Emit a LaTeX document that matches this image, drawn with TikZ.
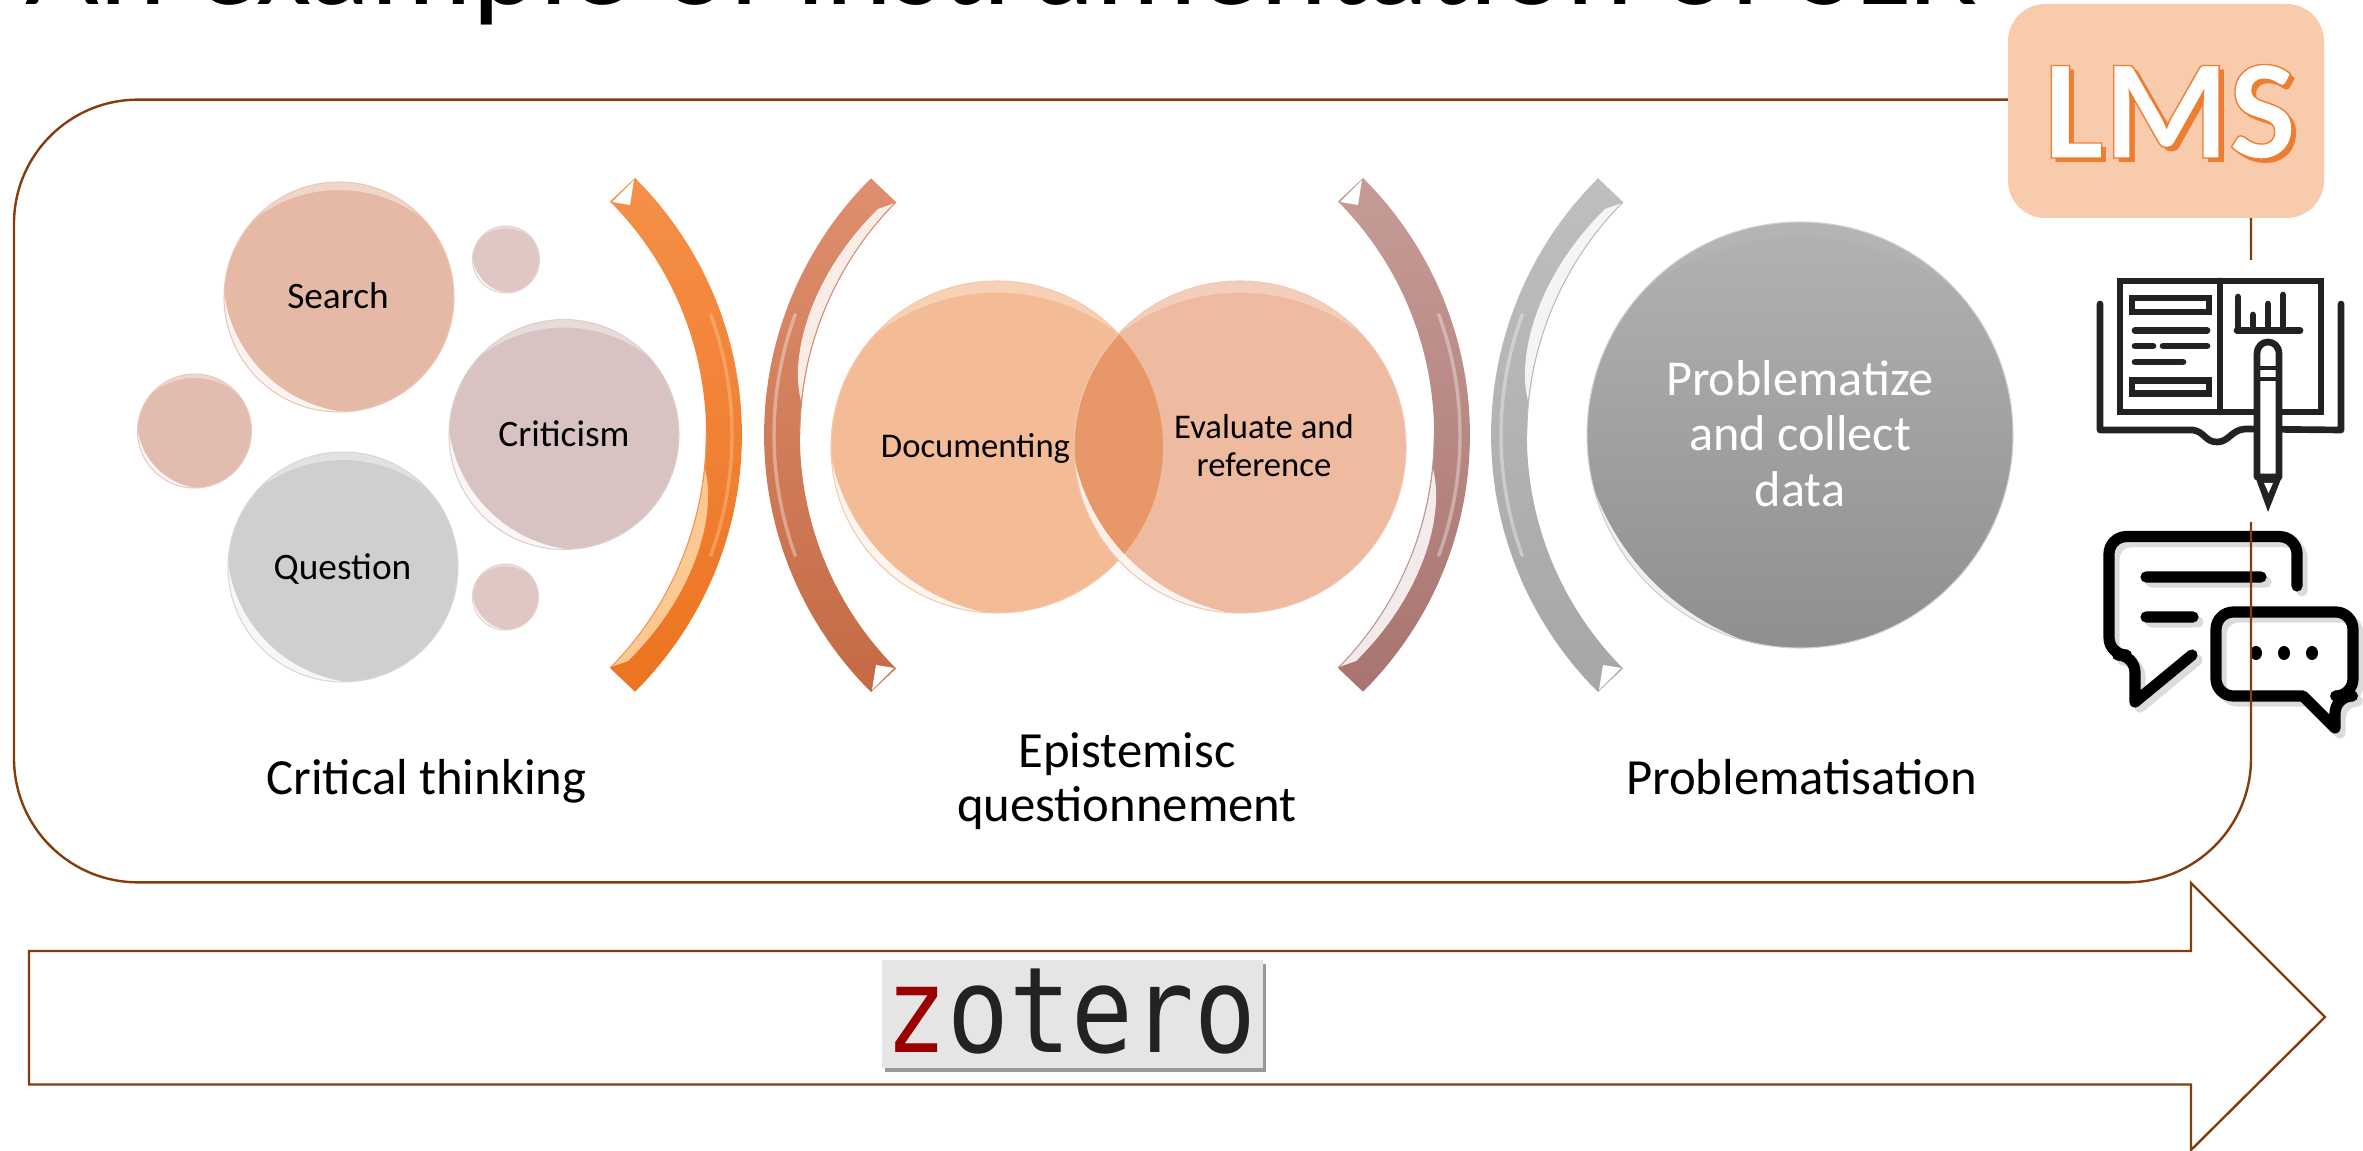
\documentclass[tikz,border=0pt]{standalone}
\usepackage{fontspec}
\setmainfont{Carlito}
\newfontfamily\zotfont{DejaVu Sans Mono}
\definecolor{rust}{HTML}{843C0C}
\definecolor{lmsfill}{HTML}{F8CBAD}
\definecolor{lmsorange}{HTML}{ED7D31}
\definecolor{ink}{HTML}{222222}
\definecolor{vennmix}{HTML}{E89868}
\definecolor{probtop}{HTML}{B2B2B2}
\definecolor{probbot}{HTML}{8F8F8F}
\definecolor{probedge}{HTML}{C8D2D8}
\tikzset{
  frameline/.style={draw=rust,line width=1.8pt},
  ball/.style={circle,inner sep=0pt,outer sep=0pt},
  lbl/.style={anchor=base,inner sep=0pt,align=center,text=black},
  smalllbl/.style={lbl,font=\fontsize{28}{30}\selectfont},
  vennlbl/.style={lbl,font=\fontsize{26}{29}\selectfont},
  biglbl/.style={lbl,font=\fontsize{38}{42}\selectfont},
  whitelbl/.style={lbl,text=white,font=\fontsize{37.7}{42}\selectfont},
  bookline/.style={draw=ink,line width=5pt,line cap=round,line join=miter},
  chatline/.style={line width=8.4pt,line cap=round,line join=round,rounded corners=13pt},
}
% glass-style highlights for a ball: cx cy r, top opacity, crescent thickness (fraction of r), rim colour
\newcommand{\gloss}[6]{%
  \begin{scope}
    \clip (#1,#2) circle[radius=#3];
    \fill[white,opacity=#4,even odd rule] (#1-2*#3,#2-2*#3) rectangle (#1+2*#3,#2+2*#3)
      (#1,#2+0.27*#3) circle[radius=1.2*#3];
  \end{scope}
  \begin{scope}
    \clip (#1,#2) circle[radius=#3];
    \fill[white,opacity=.85,even odd rule] (#1-2*#3,#2-2*#3) rectangle (#1+2*#3,#2+2*#3)
      (#1+0.7071*#5*#3+0.1414*#3,#2-0.7071*#5*#3-0.1414*#3) circle[radius=1.2*#3];
  \end{scope}
  \draw[#6,line width=.8pt] (#1,#2) circle[radius=#3];
}
% curved bracket: tip x, direction, top colour, bottom colour, shine colour
\newcommand{\curvebracket}[5]{%
  \definecolor{brkT}{HTML}{#3}\definecolor{brkB}{HTML}{#4}\definecolor{brkS}{HTML}{#5}%
  \begin{scope}[shift={(#1,435)},xscale=#2,yscale=#2]
    \path[top color=brkT,bottom color=brkB]
      (0,-257) arc[start angle=-45.2,end angle=45.2,radius=362] -- (-25,233)
      arc[start angle=44.8,end angle=-44.8,radius=331] -- cycle;
    \fill[white] (-23,-233) -- (-1,-255) -- (-5,-230) -- cycle;
    \fill[brkS,opacity=.85] (-24,232) arc[start angle=44.7,end angle=6,radius=331]
      .. controls (82,80) and (60,160) .. (-7,226) -- cycle;
    \draw[brkB!75!white,line width=.8pt] (-25,233) arc[start angle=44.8,end angle=0,radius=331];
    \draw[brkS,opacity=.35,line width=2.6pt,line cap=round]
      (-255,0) ++(-20:352) arc[start angle=-20,end angle=20,radius=352];
  \end{scope}
}
\newcommand{\chatpaths}{%
  (2297,586) -- (2297,536.6) -- (2109,536.6) -- (2109,655) -- (2135,655) [sharp corners] -- (2135,702) -- (2192,655)
  (2146,577) -- (2261,577) (2146,617) -- (2193,617)
  [rounded corners=13pt] (2216,612) -- (2353,612) -- (2353,696) -- (2335,696) [sharp corners] -- (2335,728) -- (2303,696) [rounded corners=13pt] -- (2216,696) -- cycle
}
\begin{document}
\begin{tikzpicture}[x=0.75pt,y=-0.75pt]
\useasboundingbox (0,0) rectangle (2363,1151);
% title
\node[lbl,font=\fontsize{95.7}{100}\selectfont] (title) at (1002,5) {An example of instrumentation of SLR};
% chat icon with its soft shadow
\begin{scope}[shift={(5,5)}]
  \draw[chatline,draw=black!14] \chatpaths;
\end{scope}
\draw[chatline,draw=black] \chatpaths;
\foreach \dx in {2256,2284,2312} \fill[black] (\dx,653) ellipse[x radius=6,y radius=7];
% frame
\node[frameline,rectangle,rounded corners=93pt,minimum width=1677.75pt,minimum height=587pt,inner sep=0pt,outer sep=0pt] (frame) at (1132.5,491) {};
% LMS
\node[rectangle,fill=lmsfill,rounded corners=28pt,minimum width=237pt,minimum height=160.5pt,inner sep=0pt] (lmsbox) at (2166,111) {};
\node[lbl,font=\fontsize{107}{110}\bfseries\selectfont] (lms) at (2170,158)
  {\rlap{\kern 3.8pt\raisebox{-3.4pt}{\color{lmsorange}LMS}}{\color{white}\special{pdf:code 2 Tr 1 w 0.93 0.49 0.19 RG}LMS\special{pdf:code 0 Tr}}};
% book icon on its white ground
\fill[white] (2095,260) rectangle (2363,522);
\draw[bookline] (2120,281) rectangle (2321,412) (2220,281) -- (2220,412);
\draw[bookline,line join=round] (2100,304) -- (2100,430) -- (2193,430) .. controls (2205,432) and (2205,442) .. (2217,442)
  .. controls (2229,442) and (2231,430) .. (2245,429) -- (2341,430) -- (2341,304);
\draw[bookline,line cap=butt] (2132,298) rectangle (2209,312) (2132,380.5) rectangle (2209,393.6);
\draw[bookline] (2135,330.6) -- (2207,330.6) (2135,346) -- (2153,346) (2163,346) -- (2207,346) (2135,362) -- (2183,362);
\draw[bookline] (2237,330.6) -- (2300,330.6) (2238,297) -- (2238,330.6) (2253,315) -- (2253,330.6) (2268,304) -- (2268,330.6) (2283,295) -- (2283,330.6);
\draw[bookline,fill=white,line join=round] (2257,477) -- (2257,354) .. controls (2257,338) and (2279,338) .. (2279,354) -- (2279,477) -- cycle;
\draw[bookline,line cap=butt,line width=3pt] (2257,368) -- (2279,368) (2257,379) -- (2279,379);
\fill[ink] (2256,479) -- (2281,479) -- (2268,512) -- cycle;
\fill[white] (2264,483) -- (2273,483) -- (2268.5,493) -- cycle;
% left group
\foreach \nm/\cx/\cy/\r/\col in {
  search/339/297/115/E6B9A6,
  criticism/564/434.5/115/D8C3C2,
  question/343/567/115/CFCFCF,
  bubbleA/194.5/431/57/E3BCB0,
  bubbleB/506/259.5/33.5/DFC8C4,
  bubbleC/505.5/597/33/DFC8C4}{
  \definecolor{ballcol}{HTML}{\col}
  \node[ball,fill=ballcol,minimum size=2*0.75pt*\r] (\nm) at (\cx,\cy) {};
  \gloss{\cx}{\cy}{\r}{.4}{.07}{ballcol!80!white}
}
\node[smalllbl] (searchlbl) at (338,309) {Search};
\node[smalllbl] (criticismlbl) at (564,447) {Criticism};
\node[smalllbl] (questionlbl) at (342.5,579.6) {Question};
% brackets
\curvebracket{635}{1}{F58F48}{EC7420}{FFD7A6}
\curvebracket{871}{-1}{DE8F6F}{C46A45}{FFFFFF}
\curvebracket{1363}{1}{C69B96}{A97470}{FFFFFF}
\curvebracket{1598}{-1}{BFBFBF}{A6A6A6}{FFFFFF}
% Venn pair
\definecolor{venna}{HTML}{F4BC96}
\definecolor{vennb}{HTML}{EEBAA0}
\node[ball,fill=venna,minimum size=249pt] (doc) at (997,447) {};
\gloss{997}{447}{166}{.3}{.05}{venna!80!white}
\node[ball,fill=vennb,minimum size=249pt] (eval) at (1240,447) {};
\begin{scope}
  \clip (997,447) circle[radius=166];
  \fill[fill=vennmix] (1240,447) circle[radius=166];
\end{scope}
\gloss{1240}{447}{166}{.3}{.05}{vennb!80!white}
\node[vennlbl] (doclbl) at (975.5,458) {Documenting};
\node[vennlbl] (evallbl) at (1264,439) {Evaluate and};
\node[vennlbl] (reflbl) at (1264,477) {reference};
% big ball
\node[ball,top color=probtop,bottom color=probbot,minimum size=319.5pt] (prob) at (1800,435) {};
\gloss{1800}{435}{213}{.05}{.025}{probedge}
\node[whitelbl] (problbl1) at (1800,396) {Problematize};
\node[whitelbl] (problbl2) at (1800,451) {and collect};
\node[whitelbl] (problbl3) at (1800,507) {data};
% captions
\node[biglbl] (cap1) at (426.5,794) {Critical thinking};
\node[biglbl] (cap2a) at (1127,767) {Epistemisc};
\node[biglbl] (cap2b) at (1127,821) {questionnement};
\node[biglbl] (cap3) at (1801.5,794) {Problematisation};
% arrow
\draw[frameline,line join=miter] (29,951) -- (2191,951) -- (2191,883) -- (2325,1017) -- (2191,1150) -- (2191,1084.5) -- (29,1084.5) -- cycle;
% zotero
\fill[white] (873,952.5) rectangle (1272,1083);
\fill[black!40] (885,964) rectangle (1266,1072);
\node[rectangle,fill=black!10,minimum width=285.75pt,minimum height=81pt,inner sep=0pt] (zotbox) at (1072.5,1014) {};
\node[anchor=base,inner sep=0pt,font=\fontsize{77}{80}\zotfont] (zot) at (1071,1052)
  {\scalebox{1}[1.16]{{\color[HTML]{990000}z}{\color{ink}otero}}};
\end{tikzpicture}
\end{document}
